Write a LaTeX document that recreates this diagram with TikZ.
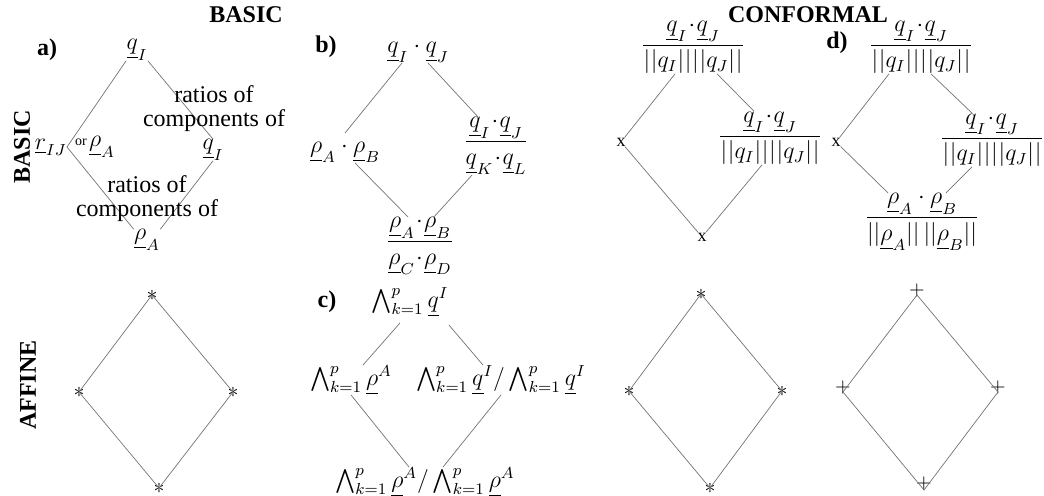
\documentclass[tikz,border=0pt]{standalone}
\usepackage{amsmath}
\usepackage{fontspec}
\setmainfont{Liberation Serif}
\begin{document}
\begin{tikzpicture}[x=0.5pt,y=-0.5pt]
\tikzset{
  mth/.style={inner sep=0pt, font=\fontsize{12}{14}\selectfont},
  txt/.style={inner sep=0pt, align=center, font=\fontsize{12}{12}\selectfont},
  ttl/.style={inner sep=0pt, font=\fontsize{12}{14}\selectfont\bfseries},
  pnl/.style={inner sep=0pt, font=\fontsize{12}{14}\selectfont\bfseries},
  smalltxt/.style={inner sep=0pt, font=\fontsize{7}{8}\selectfont},
  conn/.style={draw=black!55, line width=0.35pt},
  starmk/.style={inner sep=0pt, font=\fontsize{11}{12}\selectfont},
  xmk/.style={inner sep=0pt, font=\fontsize{9}{10}\selectfont},
  plusmk/.style={inner sep=0pt, font=\fontsize{10}{11}\selectfont},
}
\newcommand{\nrmden}{\mkern0.5mu|\mkern0.5mu|q_I|\mkern0.5mu|\mkern0.5mu|\mkern0.5mu|q_J|\mkern0.5mu|\mkern0.5mu}
\useasboundingbox (0,0) rectangle (1044,496);

% titles
\node[ttl] (tBasic) at (246,15) {BASIC};
\node[ttl] (tConf) at (808,15) {CONFORMAL};
\node[ttl, rotate=90] (lBasic) at (22,147) {BASIC};
\node[ttl, rotate=90] (lAffine) at (28,385) {AFFINE};
\node[pnl] (pa) at (47,50) {a)};
\node[pnl] (pb) at (326,47) {b)};
\node[pnl] (pc) at (327,302) {c)};
\node[pnl] (pd) at (837,43) {d)};

% panel a
\node[mth] (aT) at (137,50) {$\underline{q}_I$};
\node[mth, anchor=east] (aL) at (67,147) {$\underline{r}_{IJ}$};
\node[smalltxt] (aOr) at (81,142) {or};
\node[mth] (aRho) at (102,147) {$\underline{\rho}_A$};
\node[mth] (aR) at (213,150) {$\underline{q}_I$};
\node[mth] (aB) at (147,240) {$\underline{\rho}_A$};
\draw[conn] (aT.south west) -- (aL.east);
\draw[conn] (aL.east) -- (aB.north west);
\draw[conn] (aT.south east) -- (aR.north);
\draw[conn] (aR.south) -- (aB.north east);
\node[txt] (aLab1) at (214,109) {ratios of\\components of};
\node[txt] (aLab2) at (147,199) {ratios of\\components of};

% panel b
\node[mth] (bT) at (418,52) {$\underline{q}_I\cdot\underline{q}_J$};
\node[mth] (bL) at (345,152) {$\underline{\rho}_A\cdot\underline{\rho}_B$};
\node[mth] (bR) at (496,146) {$\dfrac{\underline{q}_I\!\cdot\!\underline{q}_J}{\underline{q}_K\!\cdot\!\underline{q}_L}$};
\node[mth] (bB) at (420,246) {$\dfrac{\underline{\rho}_A\!\cdot\!\underline{\rho}_B}{\underline{\rho}_C\!\cdot\!\underline{\rho}_D}$};
\draw[conn] ([xshift=-8pt]bT.south) -- ([yshift=4pt]bL.north);
\draw[conn] ([xshift=5pt]bT.south) -- ([xshift=-9pt]bR.north);
\draw[conn] ([xshift=5pt]bL.south) -- ([xshift=-6pt]bB.north);
\draw[conn] ([xshift=-12pt]bR.south) -- ([xshift=7pt]bB.north);

% panel conformal (first)
\node[mth] (eT) at (693,47) {$\dfrac{\underline{q}_I\!\cdot\!\underline{q}_J}{\nrmden}$};
\node[xmk] (eL) at (621,142) {x};
\node[mth] (eR) at (770,138) {$\dfrac{\underline{q}_I\!\cdot\!\underline{q}_J}{\nrmden}$};
\node[xmk] (eB) at (702,237) {x};
\draw[conn] ([xshift=-9pt]eT.south) -- (eL);
\draw[conn] ([xshift=12pt]eT.south) -- ([xshift=-8pt]eR.north);
\draw[conn] (eL) -- (eB);
\draw[conn] ([xshift=-4pt]eR.south) -- (eB);

% panel d
\node[mth] (dT) at (921,47) {$\dfrac{\underline{q}_I\!\cdot\!\underline{q}_J}{\nrmden}$};
\node[xmk] (dL) at (836,142) {x};
\node[mth] (dR) at (992,140) {$\dfrac{\underline{q}_I\!\cdot\!\underline{q}_J}{\nrmden}$};
\node[mth] (dB) at (922,222) {$\dfrac{\underline{\rho}_A\cdot\underline{\rho}_B}{||\underline{\rho}_A||\,||\underline{\rho}_B||}$};
\draw[conn] ([xshift=-16pt]dT.south) -- (dL);
\draw[conn] ([xshift=5pt]dT.south) -- ([xshift=-10pt]dR.north);
\draw[conn] (dL) -- ([xshift=-17pt]dB.north);
\draw[conn] ([xshift=-10pt]dR.south) -- ([xshift=12pt]dB.north);

% panel affine basic
\node[starmk] (fT) at (152,295) {$\ast$};
\node[starmk] (fL) at (79,392) {$\ast$};
\node[starmk] (fR) at (233,392) {$\ast$};
\node[starmk] (fB) at (159,488) {$\ast$};
\draw[conn] (fT.center) -- (fL.center) -- (fB.center) -- (fR.center) -- (fT.center);

% panel c
\node[mth] (cT) at (410,302) {$\bigwedge_{k=1}^p \underline{q}^I$};
\node[mth] (cL) at (351,380) {$\bigwedge_{k=1}^p \underline{\rho}^A$};
\node[mth] (cR) at (501,380) {$\bigwedge_{k=1}^p \underline{q}^I/\bigwedge_{k=1}^p \underline{q}^I$};
\node[mth] (cB) at (425,482) {$\bigwedge_{k=1}^p \underline{\rho}^A/\bigwedge_{k=1}^p \underline{\rho}^A$};
\draw[conn] ([xshift=-5pt,yshift=-3pt]cT.south) -- ([xshift=6pt]cL.north);
\draw[conn] ([yshift=-4pt]cT.south east) -- ([xshift=-9pt]cR.north);
\draw[conn] (cL.south) -- ([xshift=-8pt]cB.north);
\draw[conn] (cR.south) -- ([xshift=9pt]cB.north);

% panel affine conformal
\node[starmk] (gT) at (701,294) {$\ast$};
\node[starmk] (gL) at (629,391) {$\ast$};
\node[starmk] (gR) at (782,391) {$\ast$};
\node[starmk] (gB) at (710,488) {$\ast$};
\draw[conn] (gT.center) -- (gL.center) -- (gB.center) -- (gR.center) -- (gT.center);

% panel affine d
\coordinate (hT) at (917,295);
\coordinate (hL) at (843,392);
\coordinate (hR) at (998,392);
\coordinate (hB) at (924,490);
\node[plusmk] (hTm) at (917,291) {$+$};
\node[plusmk] (hLm) at (843,388) {$+$};
\node[plusmk] (hRm) at (998,388) {$+$};
\node[plusmk] (hBm) at (924,483) {$+$};
\draw[conn] (hT) -- (hL) -- (hB) -- (hR) -- (hT);
\end{tikzpicture}
\end{document}
